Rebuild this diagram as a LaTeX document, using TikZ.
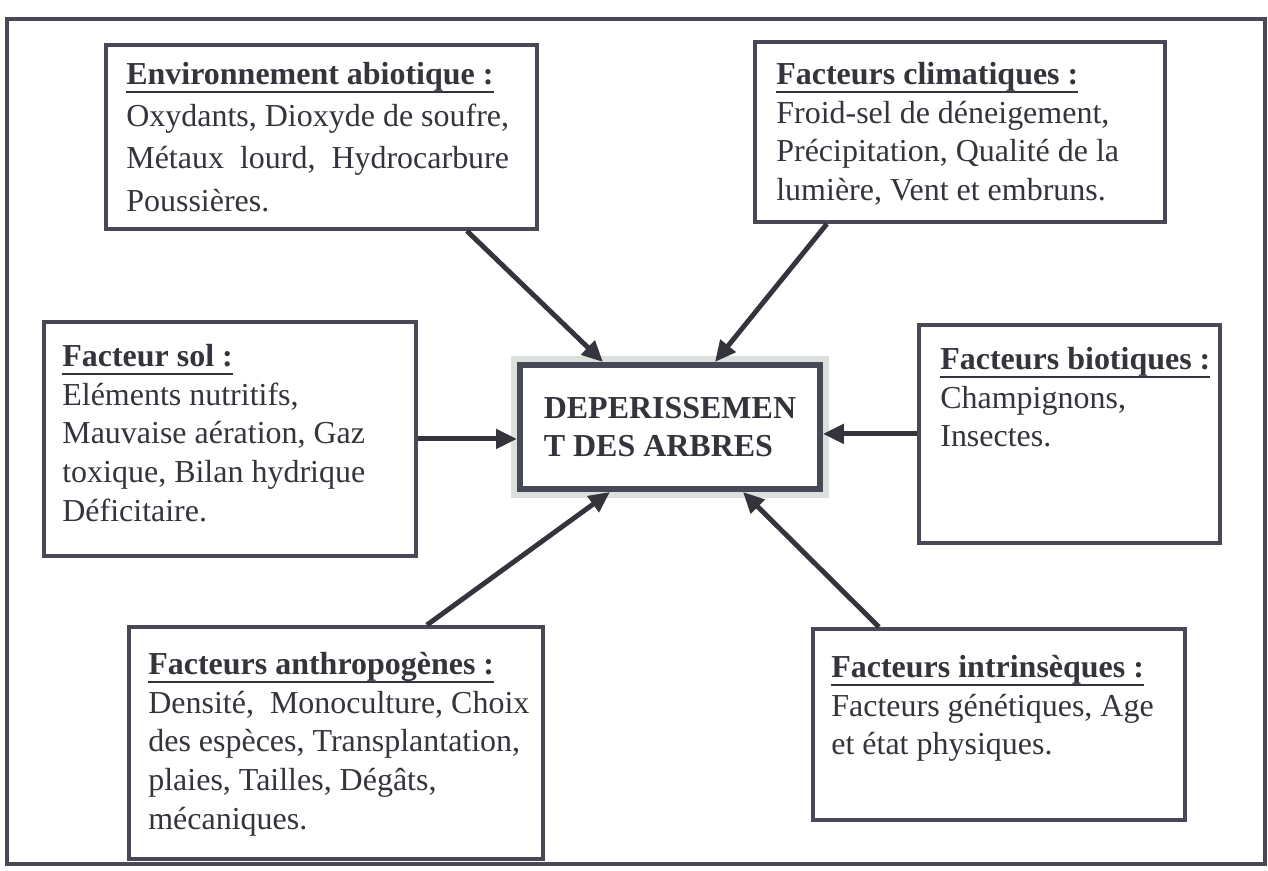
\documentclass[tikz,border=0pt]{standalone}
\usepackage{fontspec}
\setmainfont{Liberation Serif}
\usepackage{xcolor}
\usetikzlibrary{arrows.meta,positioning}

\definecolor{ink}{RGB}{52,52,60}
\definecolor{frameGray}{RGB}{72,72,86}
\definecolor{haloGray}{RGB}{220,224,220}

% bold heading with a thick underline set below the descenders
\newcommand\fhead[1]{\setbox0\hbox{\textbf{#1}}%
  \rlap{\rule[-5pt]{\wd0}{1.5pt}}\box0}

\begin{document}
\begin{tikzpicture}[
  x=0.02cm, y=-0.02cm,
  fBox/.style={rectangle, draw=frameGray, line width=2.2pt,
    fill=white, anchor=north west, inner sep=0pt},
  fText/.style={inner sep=0pt, anchor=north west, align=left,
    text=ink, font=\fontsize{18.2}{22}\selectfont},
  fCenter/.style={rectangle, draw=frameGray, line width=3.4pt,
    fill=white, anchor=north west, inner sep=0pt,
    minimum width=6cm, minimum height=2.48cm,
    align=left, text=ink, font=\fontsize{18.2}{22}\selectfont\bfseries,
    preaction={draw=haloGray, line width=0.36cm}},
  farr/.style={-{Triangle[length=0.42cm,width=0.38cm]},
    line width=2.8pt, draw=ink},
]
  \useasboundingbox (0,0) rectangle (1268,870);

  %% -- outer frame -------------------------------------------
  \draw[frameGray, line width=2.4pt] (7,19) rectangle (1265,864);

  %% -- centre ------------------------------------------------
  \node[fCenter] (dep) at (517,362) {%
    DEPERISSEMEN\\T DES ARBRES};

  %% -- factor boxes ------------------------------------------
  \node[fBox, minimum width=8.62cm, minimum height=3.68cm] (abio) at (104,43) {};
  \node[fText, below right=0.38cm and 0.44cm of abio.north west] (abioT) {%
    \fhead{Environnement abiotique :}\\[2pt]
    Oxydants, Dioxyde de soufre,\\[2pt]
    Métaux \ lourd, \ Hydrocarbure\\[2pt]
    Poussières.};

  \node[fBox, minimum width=8.2cm, minimum height=3.6cm] (clim) at (753,40) {};
  \node[fText, below right=0.44cm and 0.46cm of clim.north west] (climT) {%
    \fhead{Facteurs climatiques :}\\
    Froid-sel de déneigement,\\
    Précipitation, Qualité de la\\
    lumière, Vent et embruns.};

  \node[fBox, minimum width=7.44cm, minimum height=4.68cm] (sol) at (42,320) {};
  \node[fText, below right=0.48cm and 0.40cm of sol.north west] (solT) {%
    \fhead{Facteur sol :}\\
    Eléments nutritifs,\\
    Mauvaise aération, Gaz\\
    toxique, Bilan hydrique\\
    Déficitaire.};

  \node[fBox, minimum width=6.02cm, minimum height=4.36cm] (bio) at (917,323) {};
  \node[fText, below right=0.48cm and 0.46cm of bio.north west] (bioT) {%
    \fhead{Facteurs biotiques :}\\
    Champignons,\\
    Insectes.};

  \node[fBox, minimum width=8.28cm, minimum height=4.64cm] (anthro) at (127,625) {};
  \node[fText, below right=0.54cm and 0.42cm of anthro.north west] (anthroT) {%
    \fhead{Facteurs anthropogènes :}\\
    Densité, \ Monoculture, Choix\\
    des espèces, Transplantation,\\
    plaies, Tailles, Dégâts,\\
    mécaniques.};

  \node[fBox, minimum width=7.44cm, minimum height=3.82cm] (intr) at (811,627) {};
  \node[fText, below right=0.56cm and 0.40cm of intr.north west] (intrT) {%
    \fhead{Facteurs intrinsèques :}\\
    Facteurs génétiques, Age\\
    et état physiques.};

  %% -- arrows ------------------------------------------------
  \draw[farr] ([xshift=2.91cm]abio.south)   -- ([xshift=-1.34cm]dep.north);
  \draw[farr] ([xshift=-2.66cm]clim.south)  -- ([xshift=0.9cm]dep.north);
  \draw[farr] (sol.east) -- (sol.east -| dep.west);
  \draw[farr] (bio.west) -- (bio.west -| dep.east);
  \draw[farr] ([xshift=1.82cm]anthro.north) -- ([xshift=-1.2cm]dep.south);
  \draw[farr] ([xshift=-2.4cm]intr.north)   -- ([xshift=1.46cm]dep.south);

\end{tikzpicture}
\end{document}
